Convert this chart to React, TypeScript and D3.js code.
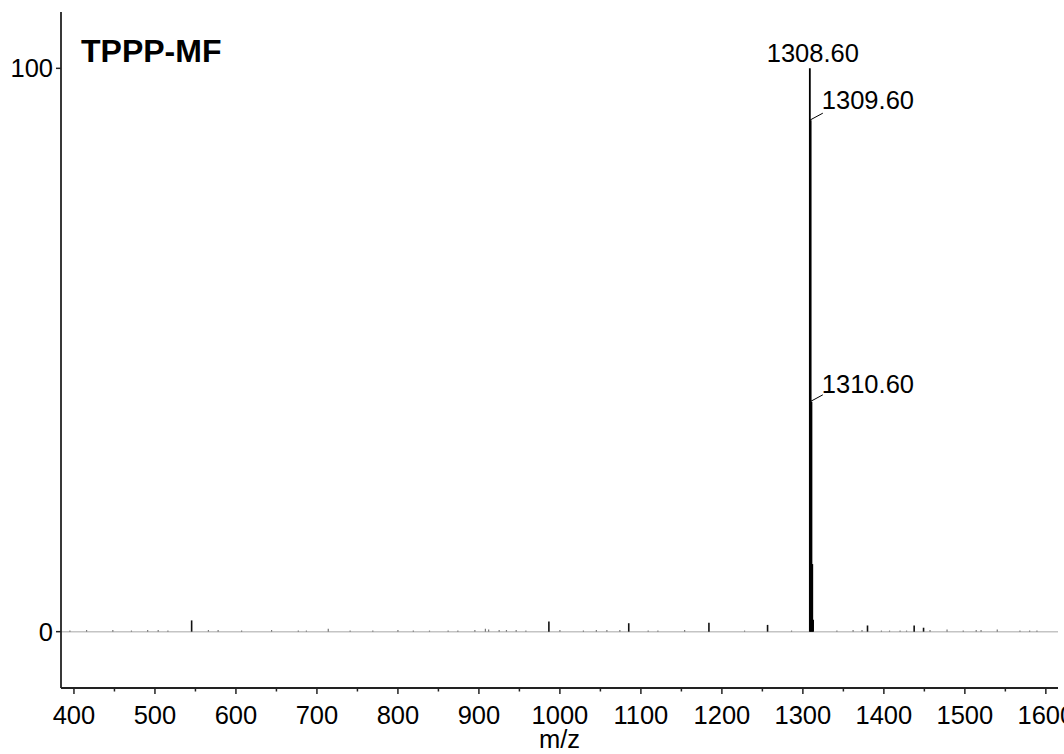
import React from 'react';
import * as d3 from 'd3';

// main isotope cluster
const clusterMz = [1308.6, 1309.6, 1310.6, 1311.6, 1312.6];
const clusterInt = [100, 90.8, 40.8, 12, 2.1];

// minor fragment peaks
const minorMz = [545.3, 986.4, 1085, 1184, 1256.4, 1379.8, 1437.4, 1449];
const minorInt = [2.0, 1.8, 1.5, 1.6, 1.2, 1.1, 1.1, 0.7];

// baseline noise
const noiseMz = [395, 415.6, 448, 471, 491, 504, 516, 566, 578, 607, 644, 677, 687, 714,
    741, 769, 800, 819, 839, 862, 874, 895, 908, 912, 925, 934, 946, 958, 1000, 1029, 1045,
    1058, 1074, 1109, 1121, 1154, 1228, 1286, 1342, 1362, 1373, 1397, 1407, 1420, 1428,
    1457, 1478, 1498, 1514, 1520, 1540, 1568, 1580, 1589];
const noiseInt = [0.2, 0.3, 0.3, 0.2, 0.3, 0.3, 0.2, 0.3, 0.3, 0.2, 0.3, 0.2, 0.2, 0.5,
    0.2, 0.2, 0.3, 0.2, 0.2, 0.2, 0.2, 0.3, 0.5, 0.4, 0.3, 0.3, 0.3, 0.2, 0.3, 0.2, 0.3,
    0.3, 0.3, 0.2, 0.2, 0.3, 0.2, 0.2, 0.2, 0.3, 0.3, 0.2, 0.2, 0.2, 0.2,
    0.3, 0.4, 0.2, 0.3, 0.3, 0.4, 0.2, 0.2, 0.2];

const xTicks = [400, 500, 600, 700, 800, 900, 1000, 1100, 1200, 1300, 1400, 1500, 1600];
const xMinorTicks = [450, 550, 650, 750, 850, 950, 1050, 1150, 1250, 1350, 1450, 1550];
const yTicks = [0, 100];

const peakLabels = ['1308.60', '1309.60', '1310.60'];

const title = 'TPPP-MF';

const App: React.FC = () => {
    const left = 61, right = 1058, top = 12, bottom = 688;
    const x = d3.scaleLinear().domain([384, 1615]).range([left, right]);
    const y = d3.scaleLinear().domain([-10, 110]).range([bottom, top]);
    const font = '"Liberation Sans", Arial, sans-serif';
    const fs = 25.5;

    const sticks = (mz: number[], it: number[], w: number, color: string, key: string) =>
        mz.map((m, i) => (
            <line key={key + i} x1={x(m)} x2={x(m)} y1={y(0)} y2={y(it[i])}
                stroke={color} strokeWidth={w} />
        ));

    return (
        <svg width={1064} height={754}
            style={{ position: 'absolute', left: 0, top: 0, background: '#fff' }}
            fontFamily={font}>
            <rect width={1064} height={754} fill="#fff" />
            {/* baseline */}
            <line x1={left} x2={right} y1={y(0)} y2={y(0)} stroke="#c4c4c4" strokeWidth={1.5} />
            {sticks(noiseMz, noiseInt, 1.2, '#777', 'n')}
            {sticks(minorMz, minorInt, 1.6, '#111', 'm')}
            {sticks(clusterMz, clusterInt, 1.8, '#000', 'c')}

            {/* peak labels */}
            <text x={x(clusterMz[0]) + 3} y={y(clusterInt[0]) - 6} fontSize={fs}
                textAnchor="middle">{peakLabels[0]}</text>
            {[1, 2].map(i => {
                const px = x(clusterMz[0]);
                const py = y(clusterInt[i]);
                return (
                    <g key={'l' + i}>
                        <line x1={px} y1={py} x2={px + 13} y2={py - 7} stroke="#000" strokeWidth={1} />
                        <text x={px + 12} y={py - (i === 1 ? 11 : 9)} fontSize={fs}>{peakLabels[i]}</text>
                    </g>
                );
            })}

            {/* axes */}
            <line x1={left} x2={left} y1={top} y2={bottom} stroke="#222" strokeWidth={1.8} />
            <line x1={left} x2={right} y1={bottom} y2={bottom} stroke="#222" strokeWidth={1.8} />
            {yTicks.map(t => (
                <g key={'y' + t}>
                    <line x1={left - 5} x2={left} y1={y(t)} y2={y(t)} stroke="#222" strokeWidth={1.5} />
                    <text x={left - 8} y={y(t) + 9} fontSize={fs} textAnchor="end">{t}</text>
                </g>
            ))}
            {xMinorTicks.map(t => (
                <line key={'xm' + t} x1={x(t)} x2={x(t)} y1={bottom} y2={bottom + 3.5}
                    stroke="#222" strokeWidth={1.5} />
            ))}
            {xTicks.map(t => (
                <g key={'x' + t}>
                    <line x1={x(t)} x2={x(t)} y1={bottom} y2={bottom + 6} stroke="#222" strokeWidth={1.5} />
                    <text x={x(t)} y={724} fontSize={fs} textAnchor="middle">{t}</text>
                </g>
            ))}
            <text x={(left + right) / 2} y={748} fontSize={fs} textAnchor="middle">m/z</text>

            <text x={81} y={62} fontSize={32} fontWeight="bold">{title}</text>
        </svg>
    );
};

export default App;
